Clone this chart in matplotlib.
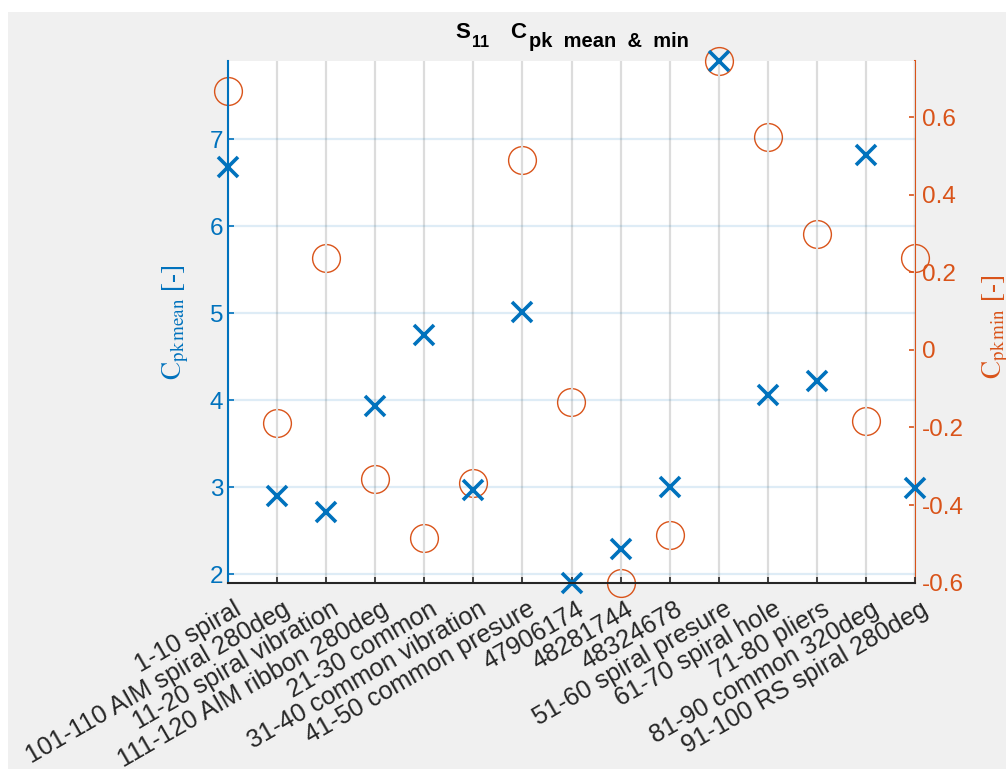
import matplotlib
matplotlib.use('Agg')
import matplotlib.pyplot as plt
import matplotlib.transforms as mtransforms
from matplotlib.patches import Rectangle

plt.rcParams['font.family'] = ['Liberation Sans', 'DejaVu Sans']
plt.rcParams['axes.unicode_minus'] = False

# sample groups / cable batches
categories = ['1-10 spiral', '101-110 AIM spiral 280deg', '11-20 spiral vibration',
              '111-120 AIM ribbon 280deg', '21-30 common', '31-40 common vibration',
              '41-50 common presure', '47906174', '48281744', '48324678',
              '51-60 spiral presure', '61-70 spiral hole', '71-80 pliers',
              '81-90 common 320deg', '91-100 RS spiral 280deg']

# Cpk mean (left axis) and Cpk min (right axis)
cpk_mean = [6.68, 2.90, 2.72, 3.94, 4.75, 2.97, 5.01, 1.90, 2.29, 3.00,
            7.90, 4.06, 4.22, 6.82, 2.99]
cpk_min = [0.668, -0.188, 0.236, -0.334, -0.486, -0.343, 0.490, -0.133, -0.601,
           -0.476, 0.745, 0.548, 0.298, -0.182, 0.236]

left_ticks = [2, 3, 4, 5, 6, 7]
right_ticks = [-0.6, -0.4, -0.2, 0, 0.2, 0.4, 0.6]
right_ticklabels = ['-0.6', '-0.4', '-0.2', '0', '0.2', '0.4', '0.6']

blue = '#0072BD'
orange = '#D95319'
dark = '#262626'
W, H = 1006, 769

fig = plt.figure(figsize=(W / 100, H / 100), dpi=100)
fig.patch.set_facecolor('white')
fig.add_artist(Rectangle((8 / W, 0), 1, 1 - 12 / H, transform=fig.transFigure,
                         facecolor='#f0f0f0', edgecolor='none', zorder=-10))

ax = fig.add_axes([228 / W, 1 - 583 / H, 687 / W, 522 / H])
ax2 = ax.twinx()

x = list(range(len(categories)))
ax2.plot(x, cpk_min, 'o', ms=20, mfc='none', mec=orange, mew=1.0, clip_on=False)
ax.plot(x, cpk_mean, 'x', ms=14.5, mec=blue, mew=2.6, clip_on=False)

# crosses on top of circles
ax.set_zorder(ax2.get_zorder() + 1)
ax.patch.set_visible(False)
ax2.patch.set_visible(True)
ax2.patch.set_facecolor('white')

ax.set_xlim(0, len(categories) - 1)
ax.set_ylim(min(cpk_mean), max(cpk_mean))
ax2.set_ylim(min(cpk_min), max(cpk_min))

ax.grid(axis='x', color='#dcdcdc', lw=1.6)
ax.grid(axis='y', color=blue, alpha=0.13, lw=1.6)

ax.set_yticks(left_ticks)
ax2.set_yticks(right_ticks)
ax2.set_yticklabels(right_ticklabels)

ax.tick_params(axis='y', direction='in', length=4.5, width=1.2, colors=blue,
               labelsize=17.5, right=False)
ax.tick_params(axis='x', direction='in', length=4, width=1.2, colors=dark,
               labelsize=18.2, top=False, pad=10)
ax2.tick_params(axis='y', direction='in', length=4.5, width=1.2, colors=orange,
                labelsize=17.5, pad=5)

for s in ['top', 'right']:
    ax.spines[s].set_visible(False)
ax.spines['left'].set_color(blue)
ax.spines['left'].set_linewidth(1.5)
ax.spines['bottom'].set_color(dark)
ax.spines['bottom'].set_linewidth(1.5)
for s in ['top', 'left', 'bottom']:
    ax2.spines[s].set_visible(False)
ax2.spines['right'].set_color(orange)
ax2.spines['right'].set_linewidth(1.5)

ax.set_xticks(x)
ax.set_xticklabels(categories, rotation=30, ha='right', va='top', rotation_mode='anchor')
shift = mtransforms.ScaledTranslation(0.05, 0, fig.dpi_scale_trans)
for lab in ax.get_xticklabels():
    lab.set_transform(lab.get_transform() + shift)

ax.set_ylabel(r'$\mathrm{C}_{\mathrm{pk\,mean}}$ [-]', color=blue, fontsize=19.5,
              fontfamily='Liberation Serif', math_fontfamily='stix')
ax.yaxis.set_label_coords((191 - 228) / 687, 0.5)
ax2.set_ylabel(r'$\mathrm{C}_{\mathrm{pk\,min}}$ [-]', color=orange, fontsize=19.5,
               fontfamily='Liberation Serif', math_fontfamily='stix')
ax2.yaxis.set_label_coords((981 - 228) / 687, 0.49)

# title built piece by piece so subscripts keep MATLAB-like sizes
t1 = fig.text(455 / W, 1 - 38 / H, 'S', fontsize=16, fontweight='bold',
              ha='left', va='baseline')
t2 = ax.annotate('11', xy=(1, 0), xycoords=t1, xytext=(1.5, -2.7),
                 textcoords='offset points', fontsize=11.5, fontweight='bold',
                 ha='left', va='baseline', annotation_clip=False)
t3 = ax.annotate('C', xy=(1, 0), xycoords=(t2, t1), xytext=(15.5, 0),
                 textcoords='offset points', fontsize=16, fontweight='bold',
                 ha='left', va='bottom', annotation_clip=False)
t4 = ax.annotate('pk  mean  &  min', xy=(1, 0), xycoords=(t3, t1), xytext=(1.5, -3.1),
                 textcoords='offset points', fontsize=14.5, fontweight='bold',
                 ha='left', va='baseline', annotation_clip=False)

fig.savefig('out.png', dpi=100, facecolor=fig.get_facecolor())
